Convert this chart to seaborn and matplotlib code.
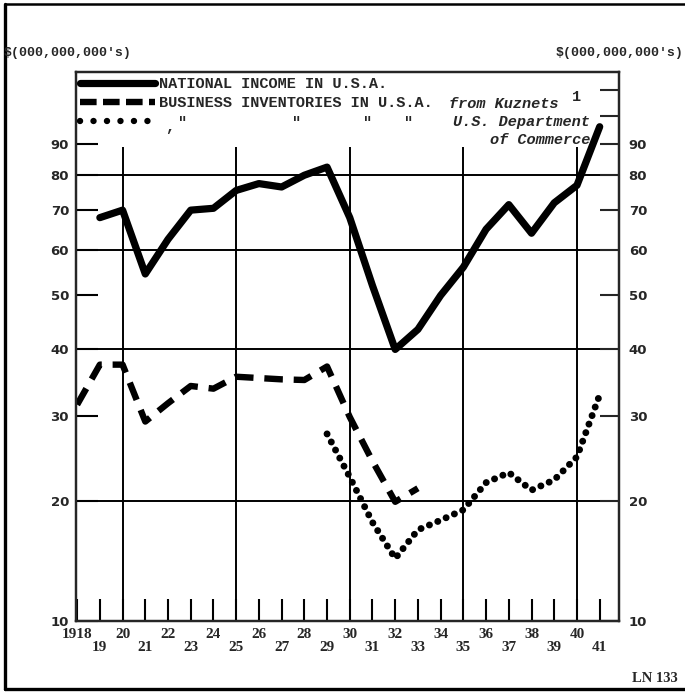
import numpy as np
import pandas as pd
import matplotlib.pyplot as plt
import seaborn as sns
from matplotlib.lines import Line2D

# values ($ billions)
income_years = list(range(1919, 1942))
national_income = [68, 70, 54.5, 62.5, 70, 70.5, 75.5, 77.5, 76.5, 80, 82.5, 68,
                   52, 40, 43.5, 50, 56, 65, 71.5, 64, 72, 77, 96]

kuznets_years = list(range(1918, 1934))
inventories_kuznets = [31.5, 37.5, 37.5, 29.2, 31.7, 34.2, 33.8, 35.6, 35.4, 35.2,
                       35.1, 37.2, 29.8, 24.3, 19.9, 21.3]

commerce_years = list(range(1929, 1942))
inventories_commerce = [27.6, 22.5, 17.9, 14.7, 17.2, 18.1, 19.1, 21.9, 23.0, 21.1,
                        22.2, 24.8, 32.9]

y_ticks = [10, 20, 30, 40, 50, 60, 70, 80, 90]
grid_values = [20, 40, 60, 80]
grid_years = [1920, 1925, 1930, 1935, 1940]
tick_years = list(range(1918, 1942))

income = pd.DataFrame({'year': income_years, 'value': national_income})
kuz = pd.DataFrame({'year': kuznets_years, 'value': inventories_kuznets})
com = pd.DataFrame({'year': commerce_years, 'value': inventories_commerce})

sns.set_style('ticks')
plt.rcParams['font.family'] = ['DejaVu Sans']

W, H = 685, 692
fig = plt.figure(figsize=(W / 100, H / 100), dpi=100)
ax = fig.add_axes([76 / W, 1 - 621 / H, (619 - 76) / W, (621 - 72) / H])


def fwd(v):
    return np.log10(np.maximum(v + 10, 1e-9))


def inv(u):
    return 10 ** u - 10


ax.set_yscale('function', functions=(fwd, inv))

for v in grid_values:
    ax.axhline(v, color='black', lw=1.4, zorder=1)
ax.vlines(grid_years, 10, 89, color='black', lw=1.4, zorder=1)

sns.lineplot(data=income, x='year', y='value', ax=ax, color='black', lw=5.2,
             solid_capstyle='round', solid_joinstyle='round', zorder=3)
sns.lineplot(data=kuz, x='year', y='value', ax=ax, color='black', lw=4.6,
             linestyle=(0, (2.9, 1.7)), dash_capstyle='butt', zorder=3)
sns.lineplot(data=com, x='year', y='value', ax=ax, color='black', lw=5.0,
             linestyle=(0, (0.01, 1.3)), dash_capstyle='round', zorder=3)

ax.set_xlim(1917.95, 1941.85)
ax.set_ylim(10, 117.5)
ax.set_xlabel('')
ax.set_ylabel('')

ax.set_yticks(y_ticks)
ax.set_yticklabels([str(v) for v in y_ticks], fontsize=9.5, fontweight='bold')
ax.yaxis.set_minor_locator(plt.NullLocator())
ax.set_xticks(tick_years)
xlabels = []
for y in tick_years:
    s = '1918' if y == 1918 else str(y)[2:]
    xlabels.append(s if y % 2 == 0 else '\n' + s)
ax.set_xticklabels(xlabels, fontsize=11, fontweight='bold', family='Liberation Serif',
                   linespacing=1.0)
ax.tick_params(axis='both', direction='in', length=16, width=1.5, pad=5, color='black')
for s in ax.spines.values():
    s.set_linewidth(1.6)
    s.set_color('black')

ax2 = ax.twinx()
ax2.set_yscale('function', functions=(fwd, inv))
ax2.set_ylim(10, 117.5)
right_ticks = y_ticks + [100, 110]
ax2.set_yticks(right_ticks)
ax2.set_yticklabels([str(v) if v < 100 else '' for v in right_ticks], fontsize=9.5,
                    fontweight='bold')
ax2.yaxis.set_minor_locator(plt.NullLocator())
ax2.tick_params(axis='y', direction='in', length=14, width=1.5, pad=7)
for s in ax2.spines.values():
    s.set_linewidth(1.6)

# legend
mono = dict(family='Liberation Mono', weight='bold', size=11)
handles = [Line2D([], [], color='black', lw=5.2),
           Line2D([], [], color='black', lw=4.6, linestyle=(0, (2.6, 1.0))),
           Line2D([], [], color='black', lw=4.6, linestyle=(0, (0.01, 2.1)),
                  dash_capstyle='round')]
labels = ['NATIONAL INCOME IN U.S.A.', 'BUSINESS INVENTORIES IN U.S.A.', '']
ax2.legend(handles, labels, loc='upper left', bbox_to_anchor=(80 / W, 1 - 77 / H),
           bbox_transform=fig.transFigure, frameon=False, prop=mono,
           handlelength=4.9, handletextpad=0.25, labelspacing=0.33, borderpad=0,
           borderaxespad=0)

monoi = dict(family='Liberation Mono', weight='bold', style='italic', size=11)
fig.text(449 / W, 1 - 104 / H, 'from Kuznets', va='center', ha='left', **monoi)
fig.text(572 / W, 1 - 97 / H, '1', va='center', ha='left', **mono)
fig.text(170 / W, 1 - 127 / H, ',', va='center', ha='center', **mono)
for xp in [183, 297, 368, 409]:
    fig.text(xp / W, 1 - 123 / H, '"', va='center', ha='center', **mono)
fig.text(590 / W, 1 - 122 / H, 'U.S. Department', va='center', ha='right', **monoi)
fig.text(590 / W, 1 - 140 / H, 'of Commerce', va='center', ha='right', **monoi)

top = dict(family='Liberation Mono', weight='bold', size=9.5)
fig.text(4 / W, 1 - 53 / H, "$(000,000,000's)", va='center', ha='left', **top)
fig.text(684 / W, 1 - 53 / H, "$(000,000,000's)", va='center', ha='right', **top)
fig.text(678 / W, 1 - 678 / H, 'LN 133', va='center', ha='right',
         family='Liberation Serif', weight='bold', size=10.5)

# page frame
fig.add_artist(Line2D([5 / W, 5 / W], [1 - 4 / H, 1 - 689 / H], color='black', lw=2.4))
fig.add_artist(Line2D([5 / W, 1], [1 - 4 / H, 1 - 4 / H], color='black', lw=1.8))
fig.add_artist(Line2D([5 / W, 1], [1 - 689 / H, 1 - 689 / H], color='black', lw=2.4))

fig.savefig('out.png', dpi=100)
